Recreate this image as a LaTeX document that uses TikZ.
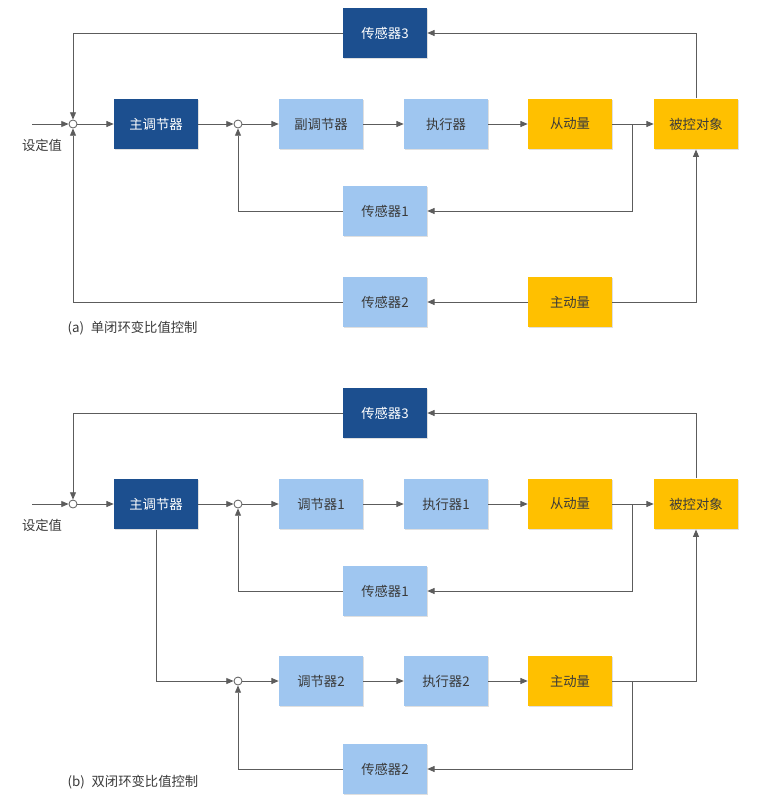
\documentclass[tikz,border=0pt]{standalone}
\usepackage{fontspec}
\newfontfamily\cjk{Noto Sans CJK SC}
\usetikzlibrary{arrows.meta,shadows}
\definecolor{darkblue}{HTML}{1C4F8F}
\definecolor{lightblue}{HTML}{9FC6F0}
\definecolor{amber}{HTML}{FFC000}
\definecolor{linegrey}{HTML}{5C5C5C}
\definecolor{textgrey}{HTML}{3A3A3A}

\begin{document}
\begin{tikzpicture}[x=0.75pt,y=-0.75pt,
  font=\cjk\fontsize{10}{12}\selectfont,
  box/.style={minimum width=63pt,minimum height=38pt,inner sep=0pt,
    drop shadow={opacity=0.25,shadow xshift=0.8pt,shadow yshift=-0.8pt}},
  dark/.style={box,fill=darkblue,text=white},
  light/.style={box,fill=lightblue,text=textgrey},
  amberbox/.style={box,fill=amber,text=textgrey},
  sum/.style={circle,draw=linegrey,fill=white,line width=0.6pt,inner sep=0pt,minimum size=6pt},
  arr/.style={draw=linegrey,line width=0.7pt,-{Triangle[length=5.5pt,width=4.5pt]}},
  label/.style={text=textgrey}]
\useasboundingbox (0,0) rectangle (760,801);

% (a)
\node[dark] (a-s3) at (385,33) {传感器3};
\node[sum] (a-j1) at (73,124) {};
\node[dark] (a-main) at (156,124) {主调节器};
\node[sum] (a-j2) at (238,124) {};
\node[light] (a-sub) at (321,124) {副调节器};
\node[light] (a-act) at (446,124) {执行器};
\node[amberbox] (a-slave) at (570,124) {从动量};
\node[amberbox] (a-plant) at (696,124) {被控对象};
\node[light] (a-s1) at (385,211) {传感器1};
\node[light] (a-s2) at (385,302) {传感器2};
\node[amberbox] (a-master) at (570,302) {主动量};
\coordinate (a-in) at (32,124);
\coordinate (a-br) at (632,124);
\node[label] (a-set) at (42,145) {设定值};
\node[label,anchor=west] (a-cap) at (63,328) {(a)\hspace{5pt}单闭环变比值控制};

\draw[arr] (a-in) -- (a-j1);
\draw[arr] (a-j1) -- (a-main);
\draw[arr] (a-main) -- (a-j2);
\draw[arr] (a-j2) -- (a-sub);
\draw[arr] (a-sub) -- (a-act);
\draw[arr] (a-act) -- (a-slave);
\draw[arr] (a-slave) -- (a-plant);
\draw[arr] (a-plant.north) |- (a-s3);
\draw[arr] (a-s3) -| (a-j1);
\draw[arr] (a-br) |- (a-s1);
\draw[arr] (a-s1) -| (a-j2);
\draw[arr] (a-master) -- (a-s2);
\draw[arr] (a-master) -| (a-plant);
\draw[arr] (a-s2) -| (a-j1);

% (b)
\node[dark] (b-s3) at (385,413) {传感器3};
\node[sum] (b-j1) at (73,504) {};
\node[dark] (b-main) at (156,504) {主调节器};
\node[sum] (b-j2) at (238,504) {};
\node[light] (b-ctl1) at (321,504) {调节器1};
\node[light] (b-act1) at (446,504) {执行器1};
\node[amberbox] (b-slave) at (570,504) {从动量};
\node[amberbox] (b-plant) at (696,504) {被控对象};
\node[light] (b-s1) at (385,591) {传感器1};
\node[sum] (b-j3) at (238,681) {};
\node[light] (b-ctl2) at (321,681) {调节器2};
\node[light] (b-act2) at (446,681) {执行器2};
\node[amberbox] (b-master) at (570,681) {主动量};
\node[light] (b-s2) at (385,769) {传感器2};
\coordinate (b-in) at (32,504);
\coordinate (b-br1) at (632,504);
\coordinate (b-br2) at (632,681);
\node[label] (b-set) at (42,525) {设定值};
\node[label,anchor=west] (b-cap) at (63,782) {(b)\hspace{5pt}双闭环变比值控制};

\draw[arr] (b-in) -- (b-j1);
\draw[arr] (b-j1) -- (b-main);
\draw[arr] (b-main) -- (b-j2);
\draw[arr] (b-j2) -- (b-ctl1);
\draw[arr] (b-ctl1) -- (b-act1);
\draw[arr] (b-act1) -- (b-slave);
\draw[arr] (b-slave) -- (b-plant);
\draw[arr] (b-plant.north) |- (b-s3);
\draw[arr] (b-s3) -| (b-j1);
\draw[arr] (b-br1) |- (b-s1);
\draw[arr] (b-s1) -| (b-j2);
\draw[arr] (b-main.south) |- (b-j3);
\draw[arr] (b-j3) -- (b-ctl2);
\draw[arr] (b-ctl2) -- (b-act2);
\draw[arr] (b-act2) -- (b-master);
\draw[arr] (b-master) -| (b-plant);
\draw[arr] (b-br2) |- (b-s2);
\draw[arr] (b-s2) -| (b-j3);
\end{tikzpicture}
\end{document}
